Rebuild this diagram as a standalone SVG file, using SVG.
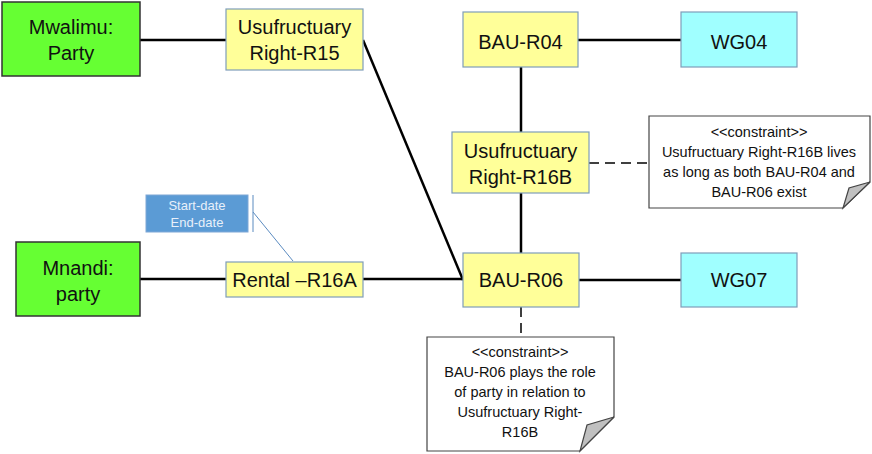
<svg xmlns="http://www.w3.org/2000/svg" width="872" height="454" viewBox="0 0 872 454">
<style>
.party{fill:#66FF33;stroke:#333333;stroke-width:1.5}
.rel{fill:#FFFF99;stroke:#7F9DB9;stroke-width:1.2}
.wg{fill:#A0FFFF;stroke:#7F9DB9;stroke-width:1.2}
.t{font-family:"Liberation Sans",Arial,sans-serif;font-size:20px;fill:#111;text-anchor:middle}
.n{font-family:"Liberation Sans",Arial,sans-serif;font-size:14.5px;fill:#111;text-anchor:middle}
.note{fill:#fff;stroke:#444;stroke-width:1.2}
.fold{fill:#C0C0C0;stroke:#444;stroke-width:1.2}
.c{stroke:#000;stroke-width:2.5;fill:none}
.d{stroke:#000;stroke-width:1.5;fill:none;stroke-dasharray:10,6}
</style>
<rect width="872" height="454" fill="#fff"/>
<g id="connectors">
<line class="c" x1="140" y1="40" x2="226" y2="40"/>
<line class="c" x1="363" y1="40" x2="463" y2="280"/>
<line class="c" x1="578" y1="40" x2="681" y2="40"/>
<line class="c" x1="521" y1="67" x2="521" y2="132"/>
<line class="c" x1="521" y1="193" x2="521" y2="253"/>
<line class="c" x1="140" y1="279" x2="226" y2="279"/>
<line class="c" x1="363" y1="279" x2="463" y2="279"/>
<line class="c" x1="579" y1="280" x2="681" y2="280"/>
<line class="d" x1="589" y1="163" x2="649" y2="163"/>
<line class="d" x1="521" y1="307" x2="521" y2="337"/>
<line x1="253" y1="212" x2="293" y2="261" stroke="#5B8BC0" stroke-width="1"/>
</g>
<g id="mwalimu">
<rect class="party" x="2" y="2" width="138" height="74"/>
<text class="t" x="71" y="34">Mwalimu:</text>
<text class="t" x="71" y="60">Party</text>
</g>
<g id="r15">
<rect class="rel" x="226" y="9" width="137" height="61"/>
<text class="t" x="294.5" y="34">Usufructuary</text>
<text class="t" x="294.5" y="60">Right-R15</text>
</g>
<g id="bau-r04">
<rect class="rel" x="463" y="12" width="115" height="55"/>
<text class="t" x="520.5" y="49">BAU-R04</text>
</g>
<g id="wg04">
<rect class="wg" x="681" y="12" width="116" height="55"/>
<text class="t" x="739" y="49">WG04</text>
</g>
<g id="r16b">
<rect class="rel" x="452" y="132" width="137" height="61"/>
<text class="t" x="520.5" y="158">Usufructuary</text>
<text class="t" x="520.5" y="184">Right-R16B</text>
</g>
<g id="note1">
<path class="note" d="M649,116 H870 V182 L843,208 H649 Z"/>
<path class="fold" d="M870,182 L843,208 L849,188 Z"/>
<text class="n" x="759" y="137">&lt;&lt;constraint&gt;&gt;</text>
<text class="n" x="759" y="157">Usufructuary  Right-R16B lives</text>
<text class="n" x="759" y="177">as long as both BAU-R04 and</text>
<text class="n" x="759" y="197">BAU-R06 exist</text>
</g>
<g id="attrs">
<rect x="146" y="195" width="102" height="37" fill="#5B9BD5" stroke="#7FA7D6" stroke-width="1"/>
<line x1="253" y1="195" x2="253" y2="232" stroke="#5B8BC0" stroke-width="1"/>
<text x="197" y="210" font-family="'Liberation Sans',Arial,sans-serif" font-size="13" fill="#E8F0FA" text-anchor="middle">Start-date</text>
<text x="197" y="227" font-family="'Liberation Sans',Arial,sans-serif" font-size="13" fill="#E8F0FA" text-anchor="middle">End-date</text>
</g>
<g id="mnandi">
<rect class="party" x="16" y="242" width="124" height="74"/>
<text class="t" x="78" y="275">Mnandi:</text>
<text class="t" x="78" y="301">party</text>
</g>
<g id="r16a">
<rect class="rel" x="226" y="262" width="137" height="35"/>
<text class="t" x="294.5" y="287">Rental –R16A</text>
</g>
<g id="bau-r06">
<rect class="rel" x="463" y="253" width="116" height="54"/>
<text class="t" x="521" y="287">BAU-R06</text>
</g>
<g id="wg07">
<rect class="wg" x="681" y="253" width="116" height="54"/>
<text class="t" x="739" y="287">WG07</text>
</g>
<g id="note2">
<path class="note" d="M427,337 H614 V417 L580,451 H427 Z"/>
<path class="fold" d="M614,417 L580,451 L587,425 Z"/>
<text class="n" x="520" y="357">&lt;&lt;constraint&gt;&gt;</text>
<text class="n" x="520" y="377">BAU-R06 plays the role</text>
<text class="n" x="520" y="397">of party in relation to</text>
<text class="n" x="520" y="417">Usufructuary  Right-</text>
<text class="n" x="520" y="437">R16B</text>
</g>
</svg>
